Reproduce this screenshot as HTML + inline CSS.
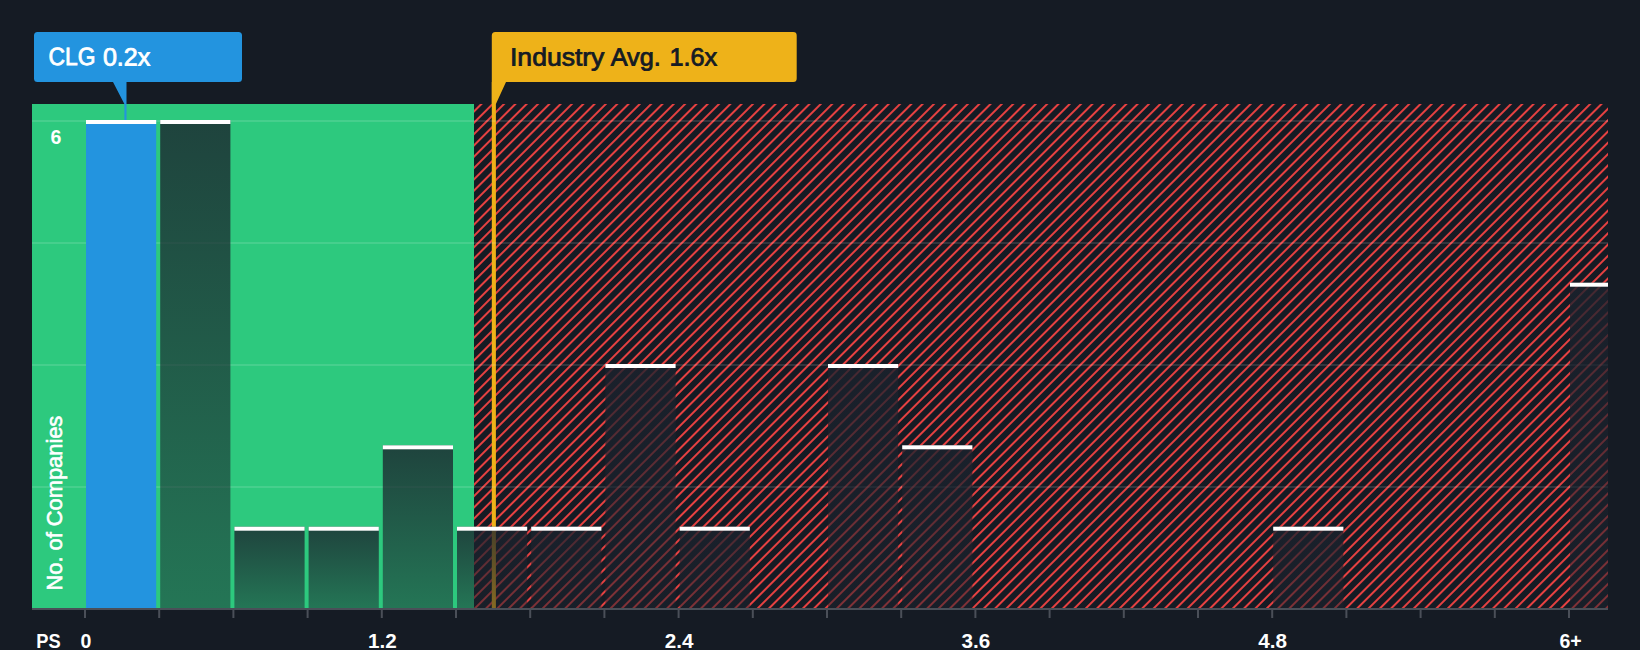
<!DOCTYPE html>
<html lang="en"><head><meta charset="utf-8"><title>CLG PS ratio vs industry</title>
<style>
html,body{margin:0;padding:0;background:#151b24;}
body{width:1640px;height:650px;overflow:hidden;}
svg{display:block}
text{font-family:"Liberation Sans",Arial,sans-serif;}
.ax{font-weight:700;font-size:19.5px;fill:#fff}
</style></head><body>
<svg width="1640" height="650" viewBox="0 0 1640 650">
<defs>
<pattern id="hatch" patternUnits="userSpaceOnUse" width="8" height="8" patternTransform="translate(7 0) rotate(45)">
<rect x="0" y="0" width="2" height="8" fill="#e64141"/>
</pattern>
<linearGradient id="bg1" x1="0" y1="0" x2="0" y2="1">
<stop offset="0" stop-color="#1b222d" stop-opacity="0.8"/>
<stop offset="1" stop-color="#1b222d" stop-opacity="0.5"/>
</linearGradient>
<clipPath id="clip"><rect x="32" y="104" width="1576" height="504"/></clipPath>
</defs>
<rect width="1640" height="650" fill="#151b24"/>
<rect x="32" y="104" width="442" height="504" fill="#2dc97e"/>
<rect x="474" y="104" width="1134" height="504" fill="url(#hatch)"/>

<rect x="491.8" y="82" width="4.1" height="526" fill="#eeb219"/>
<rect x="32" y="486.0" width="1576" height="2" fill="#fff" fill-opacity="0.12"/>
<rect x="32" y="364.0" width="1576" height="2" fill="#fff" fill-opacity="0.12"/>
<rect x="32" y="242.0" width="1576" height="2" fill="#fff" fill-opacity="0.12"/>
<rect x="32" y="120.0" width="1576" height="2" fill="#fff" fill-opacity="0.12"/>
<g clip-path="url(#clip)">
<rect x="86.0" y="120.0" width="70.2" height="488.0" fill="#2394df"/>
<rect x="86.0" y="120.0" width="70.2" height="4" fill="#fff"/>
<rect x="160.2" y="120.0" width="70.2" height="488.0" fill="url(#bg1)"/>
<rect x="160.2" y="120.0" width="70.2" height="4" fill="#fff"/>
<rect x="234.4" y="526.7" width="70.2" height="81.3" fill="url(#bg1)"/>
<rect x="234.4" y="526.7" width="70.2" height="4" fill="#fff"/>
<rect x="308.6" y="526.7" width="70.2" height="81.3" fill="url(#bg1)"/>
<rect x="308.6" y="526.7" width="70.2" height="4" fill="#fff"/>
<rect x="382.8" y="445.3" width="70.2" height="162.7" fill="url(#bg1)"/>
<rect x="382.8" y="445.3" width="70.2" height="4" fill="#fff"/>
<rect x="457.0" y="526.7" width="70.2" height="81.3" fill="url(#bg1)"/>
<rect x="457.0" y="526.7" width="70.2" height="4" fill="#fff"/>
<rect x="531.2" y="526.7" width="70.2" height="81.3" fill="url(#bg1)"/>
<rect x="531.2" y="526.7" width="70.2" height="4" fill="#fff"/>
<rect x="605.4" y="364.0" width="70.2" height="244.0" fill="url(#bg1)"/>
<rect x="605.4" y="364.0" width="70.2" height="4" fill="#fff"/>
<rect x="679.6" y="526.7" width="70.2" height="81.3" fill="url(#bg1)"/>
<rect x="679.6" y="526.7" width="70.2" height="4" fill="#fff"/>
<rect x="828.0" y="364.0" width="70.2" height="244.0" fill="url(#bg1)"/>
<rect x="828.0" y="364.0" width="70.2" height="4" fill="#fff"/>
<rect x="902.2" y="445.3" width="70.2" height="162.7" fill="url(#bg1)"/>
<rect x="902.2" y="445.3" width="70.2" height="4" fill="#fff"/>
<rect x="1273.2" y="526.7" width="70.2" height="81.3" fill="url(#bg1)"/>
<rect x="1273.2" y="526.7" width="70.2" height="4" fill="#fff"/>
<rect x="1570.0" y="282.7" width="70.2" height="325.3" fill="url(#bg1)"/>
<rect x="1570.0" y="282.7" width="70.2" height="4" fill="#fff"/>
</g>
<rect x="32" y="608" width="1576" height="2" fill="#4a4f58"/>
<rect x="84.0" y="610" width="2" height="8" fill="#4a4f58"/>
<rect x="158.2" y="610" width="2" height="8" fill="#4a4f58"/>
<rect x="232.4" y="610" width="2" height="8" fill="#4a4f58"/>
<rect x="306.6" y="610" width="2" height="8" fill="#4a4f58"/>
<rect x="380.8" y="610" width="2" height="8" fill="#4a4f58"/>
<rect x="455.0" y="610" width="2" height="8" fill="#4a4f58"/>
<rect x="529.2" y="610" width="2" height="8" fill="#4a4f58"/>
<rect x="603.4" y="610" width="2" height="8" fill="#4a4f58"/>
<rect x="677.6" y="610" width="2" height="8" fill="#4a4f58"/>
<rect x="751.8" y="610" width="2" height="8" fill="#4a4f58"/>
<rect x="826.0" y="610" width="2" height="8" fill="#4a4f58"/>
<rect x="900.2" y="610" width="2" height="8" fill="#4a4f58"/>
<rect x="974.4" y="610" width="2" height="8" fill="#4a4f58"/>
<rect x="1048.6" y="610" width="2" height="8" fill="#4a4f58"/>
<rect x="1122.8" y="610" width="2" height="8" fill="#4a4f58"/>
<rect x="1197.0" y="610" width="2" height="8" fill="#4a4f58"/>
<rect x="1271.2" y="610" width="2" height="8" fill="#4a4f58"/>
<rect x="1345.4" y="610" width="2" height="8" fill="#4a4f58"/>
<rect x="1419.6" y="610" width="2" height="8" fill="#4a4f58"/>
<rect x="1493.8" y="610" width="2" height="8" fill="#4a4f58"/>
<rect x="1568.0" y="610" width="2" height="8" fill="#4a4f58"/>
<text class="ax" x="36.3" y="647.5" textLength="24.4" lengthAdjust="spacingAndGlyphs">PS</text>
<text class="ax" x="86.0" y="647.5" text-anchor="middle">0</text>
<text class="ax" x="382.3" y="647.5" text-anchor="middle" textLength="28.7" lengthAdjust="spacingAndGlyphs">1.2</text>
<text class="ax" x="679.1" y="647.5" text-anchor="middle" textLength="28.7" lengthAdjust="spacingAndGlyphs">2.4</text>
<text class="ax" x="975.9" y="647.5" text-anchor="middle" textLength="28.7" lengthAdjust="spacingAndGlyphs">3.6</text>
<text class="ax" x="1272.7" y="647.5" text-anchor="middle" textLength="28.7" lengthAdjust="spacingAndGlyphs">4.8</text>
<text class="ax" x="1570.6" y="647.5" text-anchor="middle">6+</text>
<text class="ax" x="56" y="144" text-anchor="middle">6</text>
<text transform="translate(62,590.5) rotate(-90)" font-size="22.5" fill="#fff" stroke="#fff" stroke-width="0.6" textLength="174.8" lengthAdjust="spacingAndGlyphs">No. of Companies</text>
<path d="M37.5 32H238.5a3.5 3.5 0 0 1 3.5 3.5V78.5a3.5 3.5 0 0 1 -3.5 3.5H126.5V120H124.4V104L113 82H37.5a3.5 3.5 0 0 1 -3.5 -3.5V35.5a3.5 3.5 0 0 1 3.5 -3.5Z" fill="#2394df"/>
<g font-size="25" fill="#fff" stroke="#fff" stroke-width="0.8" transform="rotate(0.03 100 65)"><text x="48.5" y="65.45" textLength="46.9" lengthAdjust="spacingAndGlyphs">CLG</text><text x="102.9" y="65.45" textLength="47.35" lengthAdjust="spacingAndGlyphs">0.2x</text></g>
<path d="M495.3 32H793.2a3.5 3.5 0 0 1 3.5 3.5V78.5a3.5 3.5 0 0 1 -3.5 3.5H506L495.9 104H491.8V35.5a3.5 3.5 0 0 1 3.5 -3.5Z" fill="#eeb219"/>
<g font-size="25" fill="#151b24" stroke="#151b24" stroke-width="0.8" transform="rotate(0.03 610 65)"><text x="510" y="65.45" textLength="94.4" lengthAdjust="spacingAndGlyphs">Industry</text><text x="610.7" y="65.45" textLength="50.1" lengthAdjust="spacingAndGlyphs">Avg.</text><text x="669.4" y="65.45" textLength="47.7" lengthAdjust="spacingAndGlyphs">1.6x</text></g>
</svg></body></html>
